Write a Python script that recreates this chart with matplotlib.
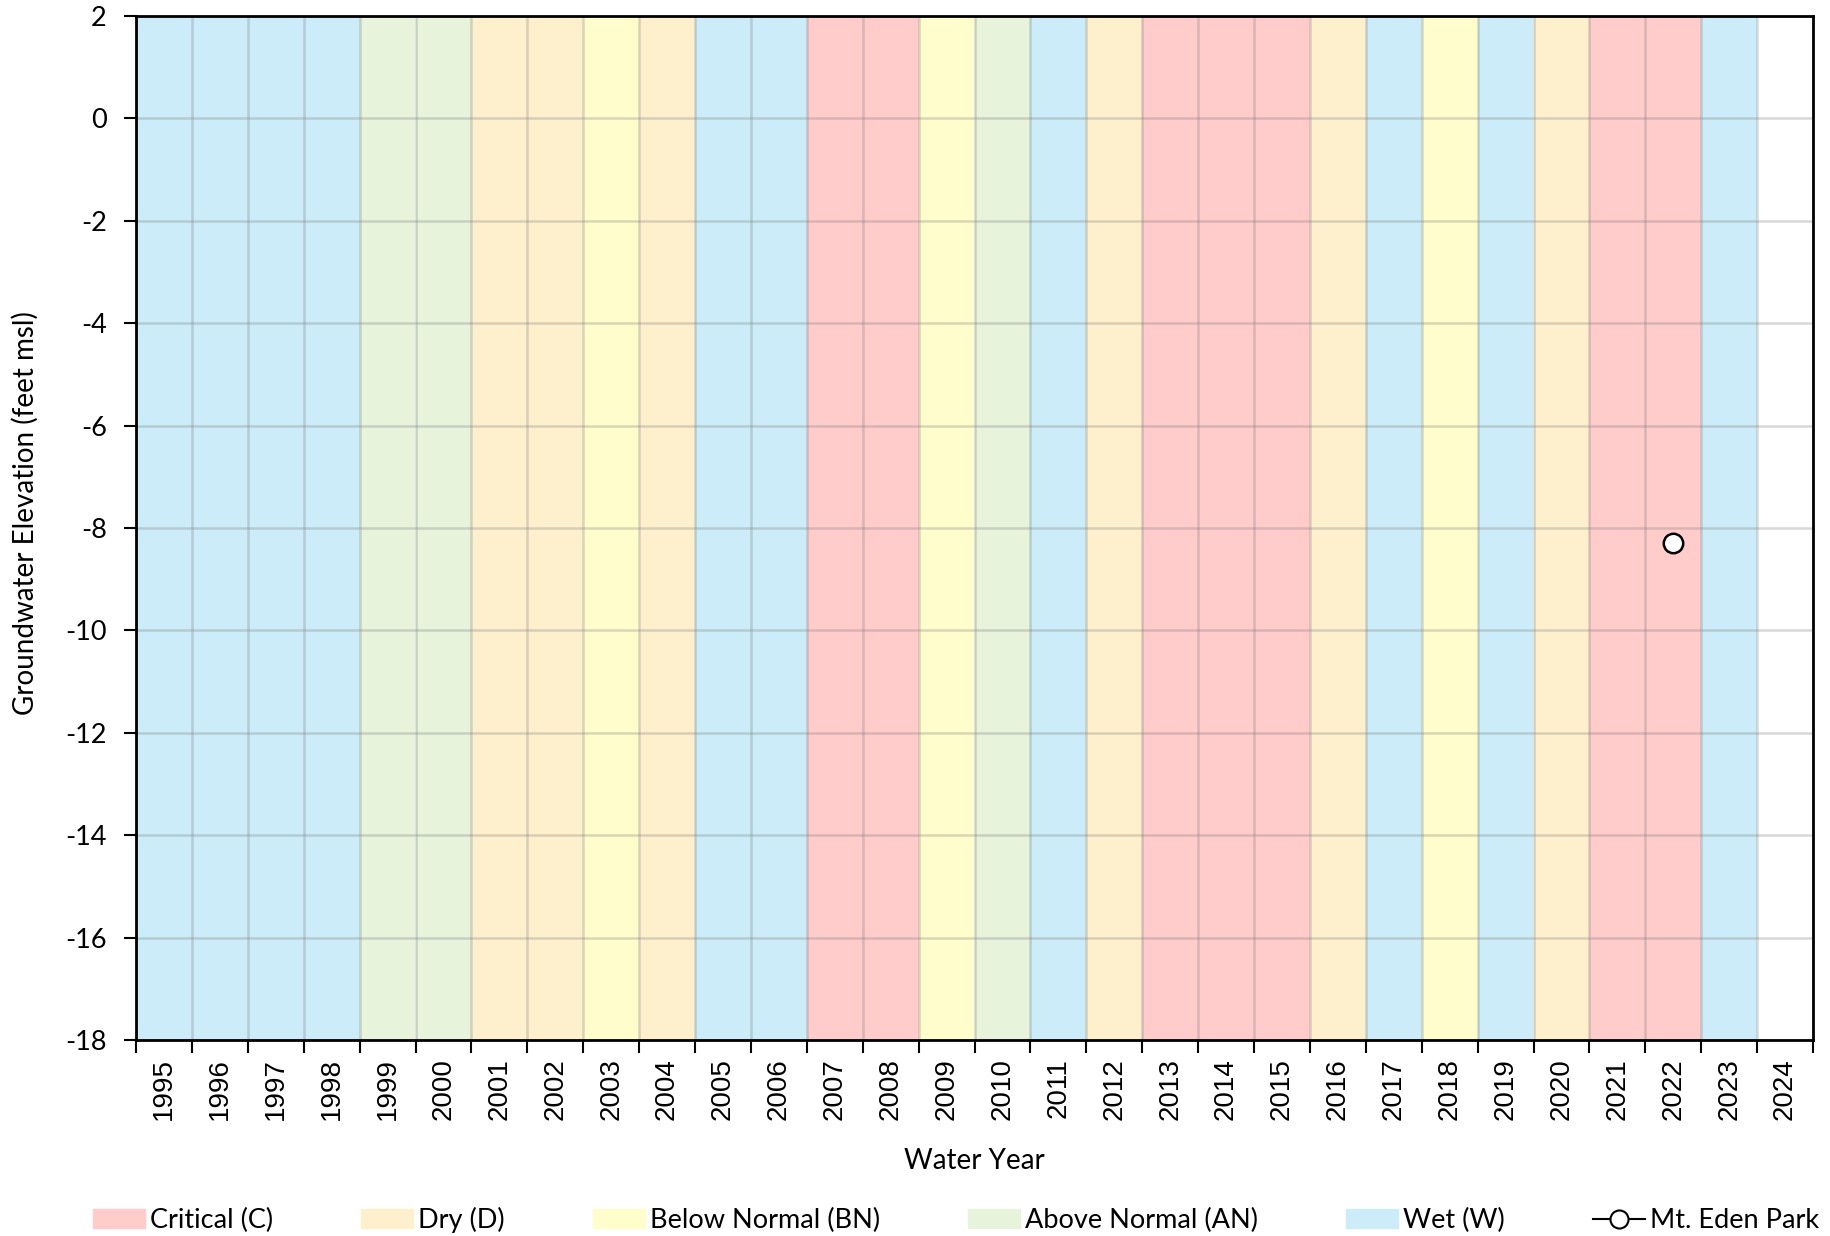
import matplotlib
matplotlib.use("Agg")
import matplotlib.pyplot as plt
import matplotlib.patches as mpatches
import matplotlib.lines as mlines
import numpy as np

plt.rcParams['font.family'] = ['Lato', 'DejaVu Sans']
plt.rcParams['axes.unicode_minus'] = False

# water year types, 1995..2024 (None = not yet classified)
years = list(range(1995, 2025))
year_types = ['W', 'W', 'W', 'W', 'AN', 'AN', 'D', 'D', 'BN', 'D',
              'W', 'W', 'C', 'C', 'BN', 'AN', 'W', 'D', 'C', 'C',
              'C', 'D', 'W', 'BN', 'W', 'D', 'C', 'C', 'W', None]
type_names = {'C': 'Critical (C)', 'D': 'Dry (D)', 'BN': 'Below Normal (BN)',
              'AN': 'Above Normal (AN)', 'W': 'Wet (W)'}
type_colors = {'C': '#FFCBCB', 'D': '#FFF0CD', 'BN': '#FFFDCB',
               'AN': '#E7F3DB', 'W': '#CBECF8'}

# observed groundwater elevation
obs_year = [2022.5]
obs_elev = [-8.3]

ymin, ymax = -18, 2

fig = plt.figure(figsize=(18.3, 12.36), dpi=100)
ax = fig.add_axes([136 / 1830, 1 - 1040 / 1236, (1813 - 136) / 1830, (1040 - 16) / 1236])

for yr, t in zip(years, year_types):
    if t is None:
        continue
    ax.bar(yr, ymax - ymin, bottom=ymin, width=1, align='edge',
           color=type_colors[t], linewidth=0, zorder=0)

ax.plot(obs_year, obs_elev, color='black', marker='o', markersize=14,
        markerfacecolor='white', markeredgecolor='black', markeredgewidth=1.8,
        linewidth=1.5, zorder=5)

ax.set_xlim(years[0], years[-1] + 1)
ax.set_ylim(ymin, ymax)
ax.set_xticks(np.arange(years[0], years[-1] + 2))
ax.set_xticklabels([])
ax.set_xticks(np.array(years) + 0.5, minor=True)
ax.set_xticklabels([str(y) for y in years], minor=True, rotation=90,
                   fontsize=20, family='Liberation Sans')
ax.tick_params(axis='x', which='minor', length=0, pad=13)
ax.tick_params(axis='x', which='major', direction='out', length=9, width=1.5)
ax.set_yticks(np.arange(ymin, ymax + 1, 2))
ax.tick_params(axis='y', direction='out', length=9, width=1.5, labelsize=19.5, pad=12)

ax.grid(True, which='major', color='#7f7f7f', alpha=0.3, linewidth=1.8)
ax.set_axisbelow(False)
for sp in ax.spines.values():
    sp.set_linewidth(2)
    sp.set_zorder(6)

ax.set_xlabel('Water Year', fontsize=20, labelpad=20)
ax.set_ylabel('Groundwater Elevation (feet msl)', fontsize=20)
ax.yaxis.set_label_coords(-0.058, 0.515)

handles = [mpatches.Patch(color=type_colors[k], label=type_names[k])
           for k in ['C', 'D', 'BN', 'AN', 'W']]
handles.append(mlines.Line2D([], [], color='black', marker='o', markersize=13,
                             markerfacecolor='white', markeredgewidth=1.5,
                             linewidth=1.5, label='Mt. Eden Park'))
fig.legend(handles=handles, loc='center', ncol=6, mode='expand',
           bbox_to_anchor=(0.045, 0.0, 0.955, 0.026), frameon=False,
           fontsize=19.5, handlelength=1.9, handletextpad=0.2, borderaxespad=0)

fig.savefig('out.png', dpi=100)
